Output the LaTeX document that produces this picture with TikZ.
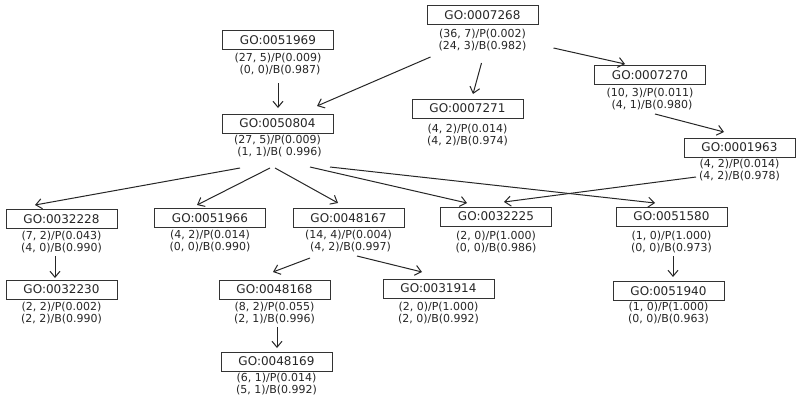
\documentclass[tikz,border=0pt]{standalone}
\usepackage{fontspec}
\setmainfont{DejaVu Sans}
\usetikzlibrary{arrows.meta}
\tikzset{
  gobox/.style={draw=black!80, line width=1pt, minimum width=111pt, minimum height=19pt,
    inner sep=0pt, font=\fontsize{12}{14}\selectfont, text=black!85},
  gostat/.style={align=center, inner sep=0pt, font=\fontsize{11}{12}\selectfont, text=black!85},
  arr/.style={draw=black!85, line width=1pt, -{Straight Barb[length=6pt,width=10pt]}}
}
\newcommand{\gonode}[7]{%
  \node[gobox] (#1) at (#2,#3) {#5};
  \node[gostat] (#1s) at (#2,#4) {#6\\#7};
}
\begin{document}
\begin{tikzpicture}[x=1pt,y=-1pt]
\fill[white] (0,0) rectangle (800,400);
\useasboundingbox (0,0) rectangle (800,400);
\gonode{n7268}{482.5}{15}{40}{GO:0007268}{(36, 7)/P(0.002)}{(24, 3)/B(0.982)}
\gonode{n51969}{278}{40}{64}{GO:0051969}{(27, 5)/P(0.009)}{\hspace*{4pt}(0, 0)/B(0.987)}
\gonode{n50804}{277.5}{123.5}{146.5}{GO:0050804}{(27, 5)/P(0.009)}{\hspace*{4pt}(1, 1)/B( 0.996)}
\gonode{n7271}{467.5}{108.5}{135}{GO:0007271}{(4, 2)/P(0.014)}{(4, 2)/B(0.974)}
\gonode{n7270}{650}{75}{99}{GO:0007270}{(10, 3)/P(0.011)}{\hspace*{4pt}(4, 1)/B(0.980)}
\gonode{n1963}{739.5}{147.5}{170.5}{GO:0001963}{(4, 2)/P(0.014)}{(4, 2)/B(0.978)}
\gonode{n32228}{61.5}{219}{242}{GO:0032228}{(7, 2)/P(0.043)}{(4, 0)/B(0.990)}
\gonode{n51966}{210}{218}{241}{GO:0051966}{(4, 2)/P(0.014)}{(0, 0)/B(0.990)}
\gonode{n48167}{348.5}{218}{241}{GO:0048167}{(14, 4)/P(0.004)}{\hspace*{4pt}(4, 2)/B(0.997)}
\gonode{n32225}{496}{216.5}{242}{GO:0032225}{(2, 0)/P(1.000)}{(0, 0)/B(0.986)}
\gonode{n51580}{671.5}{216.5}{242}{GO:0051580}{(1, 0)/P(1.000)}{(0, 0)/B(0.973)}
\gonode{n32230}{61.5}{289.5}{313}{GO:0032230}{(2, 2)/P(0.002)}{(2, 2)/B(0.990)}
\gonode{n48168}{274.5}{289.5}{313.5}{GO:0048168}{(8, 2)/P(0.055)}{(2, 1)/B(0.996)}
\gonode{n31914}{438.5}{288.5}{313}{GO:0031914}{(2, 0)/P(1.000)}{(2, 0)/B(0.992)}
\gonode{n51940}{668.5}{291}{313}{GO:0051940}{(1, 0)/P(1.000)}{(0, 0)/B(0.963)}
\gonode{n48169}{276.5}{361.5}{384}{GO:0048169}{(6, 1)/P(0.014)}{(5, 1)/B(0.992)}
% connectors
\draw[arr] ([shift={(0,19)}]n51969s.center) -- ([shift={(0.5,-15.5)}]n50804.center);
\draw[arr] ([shift={(-52,17)}]n7268s.center) -- ([shift={(39.5,-17.5)}]n50804.center);
\draw[arr] ([shift={(-1,23)}]n7268s.center) -- ([shift={(5.5,-14.5)}]n7271.center);
\draw[arr] ([shift={(71,8)}]n7268s.center) -- ([shift={(-25,-11)}]n7270.center);
\draw[arr] ([shift={(5,15)}]n7270s.center) -- ([shift={(-15.5,-15.5)}]n1963.center);
\draw[arr] ([shift={(-43.5,6.5)}]n1963s.center) -- ([shift={(8,-14.5)}]n32225.center);
\draw[arr] ([shift={(-37.5,21.5)}]n50804s.center) -- ([shift={(-26.5,-14)}]n32228.center);
\draw[arr] ([shift={(-7.5,21.5)}]n50804s.center) -- ([shift={(-13,-13)}]n51966.center);
\draw[arr] ([shift={(-2.5,21.5)}]n50804s.center) -- ([shift={(-10.5,-15)}]n48167.center);
\draw[arr] ([shift={(32.5,20.5)}]n50804s.center) -- ([shift={(-29,-13.5)}]n32225.center);
\draw[arr] ([shift={(52.5,20.5)}]n50804s.center) -- ([shift={(-16.5,-13.5)}]n51580.center);
\draw[arr] ([shift={(-6.5,14)}]n32228s.center) -- ([shift={(-6.5,-11.5)}]n32230.center);
\draw[arr] ([shift={(-38.5,17)}]n48167s.center) -- ([shift={(-1.5,-17.5)}]n48168.center);
\draw[arr] ([shift={(8.5,15)}]n48167s.center) -- ([shift={(-16.5,-16.5)}]n31914.center);
\draw[arr] ([shift={(2.5,13.5)}]n48168s.center) -- ([shift={(0.5,-13.5)}]n48169.center);
\draw[arr] ([shift={(1.5,14)}]n51580s.center) -- ([shift={(4.5,-14)}]n51940.center);
\end{tikzpicture}
\end{document}
